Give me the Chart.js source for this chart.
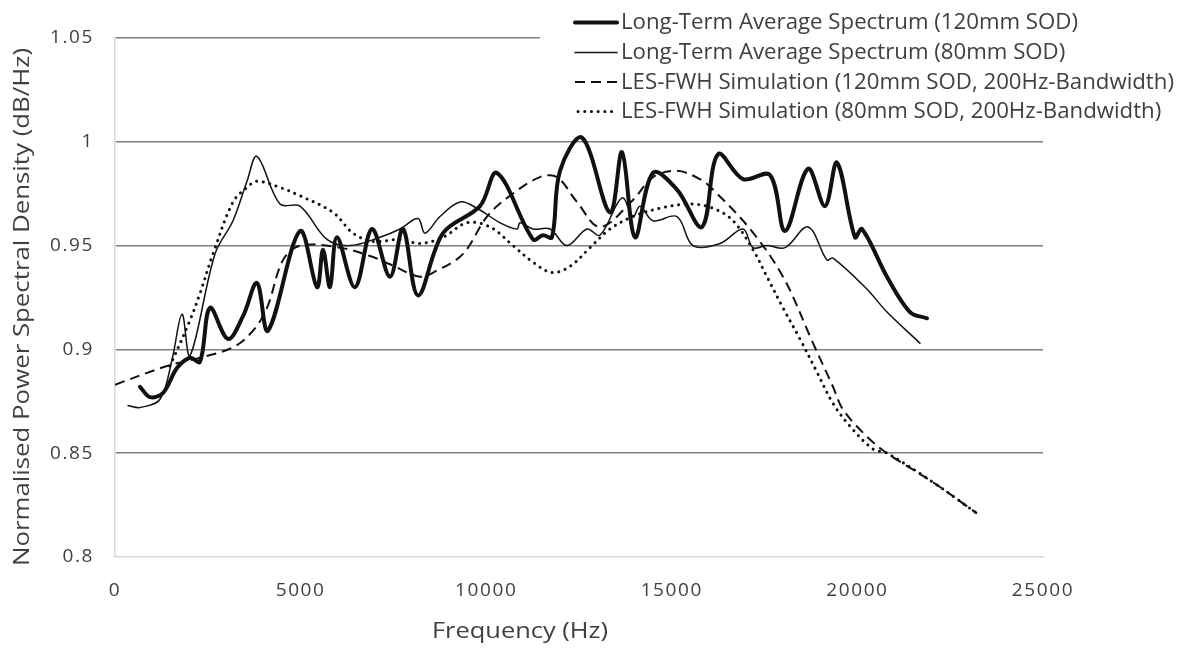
<!DOCTYPE html>
<html>
<head>
<meta charset="utf-8">
<script src="https://cdn.jsdelivr.net/npm/chart.js@4.4.1/dist/chart.umd.min.js"></script>
<style>
  html, body { margin: 0; padding: 0; background: #ffffff; }
  #wrap { width: 1188px; height: 652px; position: relative; }
</style>
</head>
<body>
<div id="wrap"><canvas id="c" width="1188" height="652"></canvas></div>
<script>
// ---- Data ----
const seriesNames = [
  'Long-Term Average Spectrum (120mm SOD)',
  'Long-Term Average Spectrum (80mm SOD)',
  'LES-FWH Simulation (120mm SOD, 200Hz-Bandwidth)',
  'LES-FWH Simulation (80mm SOD, 200Hz-Bandwidth)'
];

const ltas120Freq = [673, 943, 1293, 1670, 2020, 2290, 2559, 3044, 3448, 3825, 4122, 4984, 5442, 5603, 5792, 5980, 6466, 6923, 7408, 7759, 8163, 8836, 9833, 10291, 11261, 11530, 11772, 11988, 12581, 13335, 13658, 14009, 14494, 15140, 15814, 16245, 16918, 17645, 18050, 18669, 19127, 19450, 19935, 20124, 20797, 21417, 21875];
const ltas120Val = [0.882, 0.877, 0.879, 0.891, 0.896, 0.894, 0.920, 0.905, 0.916, 0.932, 0.909, 0.957, 0.930, 0.948, 0.930, 0.954, 0.930, 0.958, 0.935, 0.958, 0.926, 0.956, 0.969, 0.985, 0.953, 0.955, 0.954, 0.986, 1.002, 0.966, 0.995, 0.954, 0.985, 0.977, 0.959, 0.994, 0.982, 0.984, 0.957, 0.987, 0.969, 0.990, 0.954, 0.958, 0.935, 0.918, 0.915];

const ltas80Freq = [350, 673, 1212, 1536, 1805, 2020, 2694, 3179, 3556, 3825, 4445, 4984, 5711, 6331, 7139, 7678, 8163, 8351, 8755, 9294, 9752, 10372, 10830, 10911, 11261, 11719, 12177, 12716, 13066, 13658, 13955, 14143, 14494, 15140, 15571, 16299, 16918, 17188, 17565, 18050, 18669, 19181, 19343, 20259, 20797, 21686];
const ltas80Val = [0.873, 0.872, 0.876, 0.895, 0.917, 0.897, 0.946, 0.962, 0.981, 0.993, 0.970, 0.969, 0.953, 0.950, 0.954, 0.958, 0.963, 0.956, 0.964, 0.971, 0.968, 0.961, 0.958, 0.961, 0.958, 0.958, 0.950, 0.958, 0.955, 0.973, 0.964, 0.969, 0.962, 0.964, 0.950, 0.951, 0.958, 0.949, 0.950, 0.949, 0.959, 0.943, 0.944, 0.929, 0.918, 0.903];

const les120Freq = [0, 1401, 2290, 3179, 3718, 4095, 4526, 4984, 6061, 6870, 7408, 8217, 8675, 9375, 10022, 10641, 11449, 11907, 12446, 13066, 13955, 14494, 15140, 15760, 16110, 17107, 17996, 18804, 19343, 19612, 20259, 20797, 22037, 23222];
const les120Val = [0.883, 0.892, 0.896, 0.901, 0.909, 0.920, 0.943, 0.950, 0.949, 0.945, 0.941, 0.935, 0.938, 0.946, 0.964, 0.974, 0.983, 0.983, 0.971, 0.959, 0.972, 0.983, 0.986, 0.982, 0.977, 0.958, 0.935, 0.903, 0.882, 0.871, 0.858, 0.850, 0.836, 0.821];

const les80Freq = [1482, 2020, 2290, 2640, 3179, 3556, 3825, 4445, 4984, 5873, 6412, 6950, 7678, 8217, 8836, 9483, 10102, 10722, 11261, 11772, 12257, 12796, 13335, 13955, 14682, 15490, 16110, 16649, 17188, 17565, 17996, 18454, 18912, 19343, 19801, 20420, 20797, 22037, 23222];
const les80Val = [0.892, 0.914, 0.927, 0.946, 0.971, 0.978, 0.981, 0.978, 0.974, 0.966, 0.956, 0.952, 0.953, 0.951, 0.954, 0.961, 0.959, 0.950, 0.942, 0.937, 0.940, 0.949, 0.958, 0.964, 0.968, 0.970, 0.968, 0.962, 0.948, 0.935, 0.920, 0.905, 0.889, 0.874, 0.863, 0.852, 0.850, 0.836, 0.821];

const xTicks = [0, 5000, 10000, 15000, 20000, 25000];
const yTicks = [0.8, 0.85, 0.9, 0.95, 1, 1.05];
const xTitle = 'Frequency (Hz)';
const yTitle = 'Normalised Power Spectral Density (dB/Hz)';

// ---- Build ----
function pts(f, v) { return f.map((x, i) => ({ x: x, y: v[i] })); }

const styles = [
  { borderWidth: 4, borderDash: [], cap: 'round' },
  { borderWidth: 1.5, borderDash: [], cap: 'round' },
  { borderWidth: 2, borderDash: [10, 6], cap: 'butt' },
  { borderWidth: 3, borderDash: [0.1, 6.6], cap: 'round' }
];
const seriesData = [
  pts(ltas120Freq, ltas120Val),
  pts(ltas80Freq, ltas80Val),
  pts(les120Freq, les120Val),
  pts(les80Freq, les80Val)
];

const datasets = seriesNames.map((name, i) => ({
  label: name,
  data: seriesData[i],
  borderColor: '#111111',
  backgroundColor: '#111111',
  borderWidth: styles[i].borderWidth,
  borderDash: styles[i].borderDash,
  borderCapStyle: styles[i].cap,
  borderJoinStyle: 'round',
  pointRadius: 0,
  pointHoverRadius: 0,
  tension: 0.35,
  fill: false,
  order: i
}));

const FONT = '"Open Sans", "DejaVu Sans", sans-serif';
const TXT = '#404040';

const textPlugin = {
  id: 'textPlugin',
  beforeDraw(chart) {
    try { chart.ctx.letterSpacing = '1.6px'; } catch (e) {}
  },
  afterDraw(chart) {
    const ctx = chart.ctx;
    ctx.save();
    try { ctx.letterSpacing = '0px'; } catch (e) {}

    // Axis titles (scaled to the reference's text widths)
    ctx.fillStyle = TXT;
    ctx.font = '22px ' + FONT;
    ctx.textBaseline = 'middle';
    ctx.textAlign = 'center';
    let w = ctx.measureText(xTitle).width;
    ctx.save();
    ctx.translate(520, 632);
    ctx.scale(176 / w, 1);
    ctx.fillText(xTitle, 0, 0);
    ctx.restore();

    w = ctx.measureText(yTitle).width;
    ctx.save();
    ctx.translate(23, 307);
    ctx.rotate(-Math.PI / 2);
    ctx.scale(518 / w, 1);
    ctx.fillText(yTitle, 0, 0);
    ctx.restore();

    // Legend (inside top-right, with white background)
    ctx.fillStyle = '#ffffff';
    ctx.fillRect(540, 0, 1188 - 540, 129);
    const rowsY = [22.5, 52.5, 82, 111.5];
    ctx.font = '21px ' + FONT;
    const w0 = ctx.measureText(seriesNames[0]).width;
    const sx = 457 / w0;
    seriesNames.forEach((name, i) => {
      const y = rowsY[i];
      ctx.save();
      ctx.strokeStyle = '#111111';
      ctx.lineWidth = styles[i].borderWidth;
      ctx.lineCap = styles[i].cap;
      ctx.setLineDash(styles[i].borderDash);
      ctx.beginPath();
      ctx.moveTo(i === 3 ? 578 : 575, y);
      ctx.lineTo(617, y);
      ctx.stroke();
      ctx.restore();

      ctx.save();
      ctx.fillStyle = '#404040';
      ctx.textAlign = 'left';
      ctx.textBaseline = 'middle';
      ctx.translate(621, y + 1);
      ctx.scale(sx, 1);
      ctx.fillText(name, 0, 0);
      ctx.restore();
    });
    ctx.restore();
  }
};

new Chart(document.getElementById('c'), {
  type: 'line',
  data: { datasets: datasets },
  options: {
    responsive: false,
    animation: false,
    devicePixelRatio: 1,
    parsing: true,
    layout: { padding: { top: 38, right: 145, left: 0, bottom: 0 } },
    plugins: {
      legend: { display: false },
      tooltip: { enabled: false },
      title: { display: false }
    },
    scales: {
      x: {
        type: 'linear',
        min: 0,
        max: 25000,
        afterFit(scale) { scale.height = 95; },
        afterBuildTicks(scale) { scale.ticks = xTicks.map(v => ({ value: v })); },
        ticks: {
          color: TXT,
          font: { family: FONT, size: 19 },
          padding: 22,
          maxRotation: 0,
          autoSkip: false,
          callback: v => String(v)
        },
        grid: { display: false, drawTicks: false },
        border: { display: true, color: '#d9d9d9', width: 1.5 },
        title: { display: false }
      },
      y: {
        type: 'linear',
        min: 0.8,
        max: 1.05,
        afterFit(scale) { scale.width = 115; },
        afterBuildTicks(scale) { scale.ticks = yTicks.map(v => ({ value: v })); },
        ticks: {
          color: TXT,
          font: { family: FONT, size: 19 },
          padding: 21,
          autoSkip: false,
          callback: v => String(Math.round(v * 100) / 100)
        },
        grid: {
          drawTicks: false,
          color: c => (c.tick && c.tick.value <= 0.8001) ? 'rgba(0,0,0,0)' : '#808080',
          lineWidth: 1.5
        },
        border: { display: true, color: '#d9d9d9', width: 1.5 },
        title: { display: false }
      }
    }
  },
  plugins: [textPlugin]
});
</script>
</body>
</html>
